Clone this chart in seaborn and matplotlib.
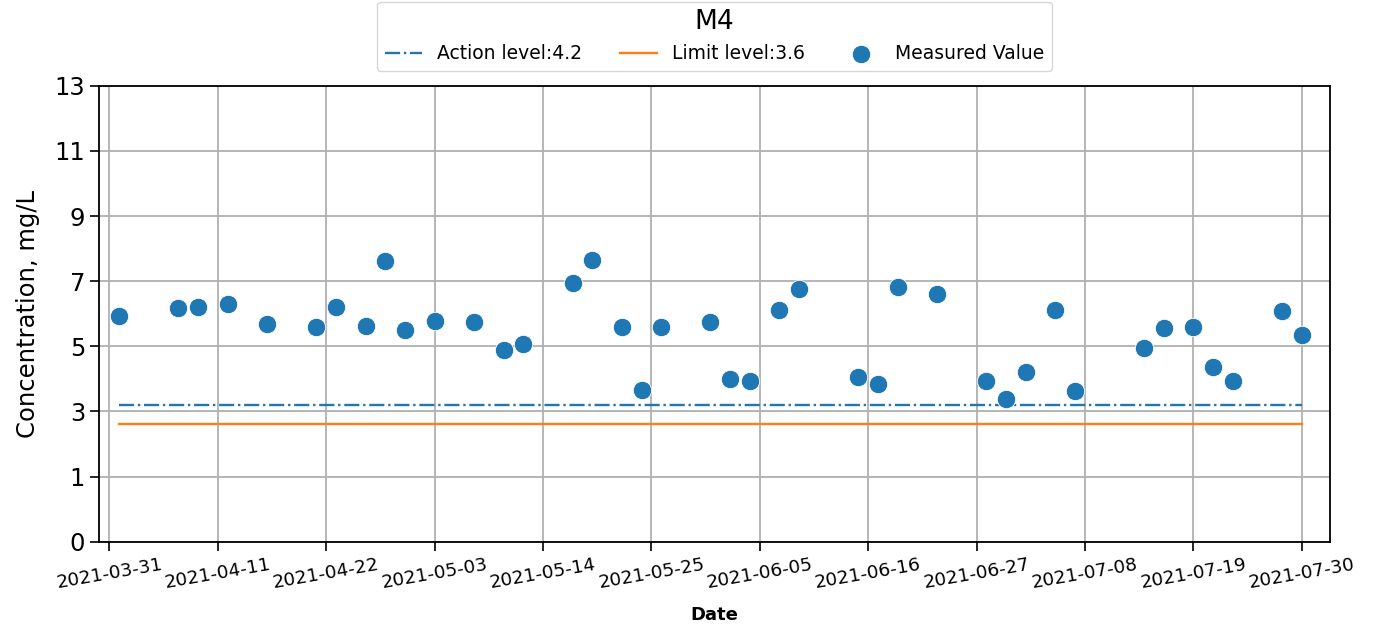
import matplotlib
matplotlib.use("Agg")
import matplotlib.pyplot as plt
import matplotlib.dates as mdates
import numpy as np
import pandas as pd
import seaborn as sns

# Measured concentrations at station M4
sample_dates = [
    "2021-04-01", "2021-04-07", "2021-04-09", "2021-04-12", "2021-04-16",
    "2021-04-21", "2021-04-23", "2021-04-26", "2021-04-28", "2021-04-30",
    "2021-05-03", "2021-05-07", "2021-05-10", "2021-05-12", "2021-05-17",
    "2021-05-19", "2021-05-22", "2021-05-24", "2021-05-26", "2021-05-31",
    "2021-06-02", "2021-06-04", "2021-06-07", "2021-06-09", "2021-06-15",
    "2021-06-17", "2021-06-19", "2021-06-23", "2021-06-28", "2021-06-30",
    "2021-07-02", "2021-07-05", "2021-07-07", "2021-07-14", "2021-07-16",
    "2021-07-19", "2021-07-21", "2021-07-23", "2021-07-28", "2021-07-30",
]
measured_values = [
    6.93, 7.19, 7.22, 7.30, 6.70, 6.59, 7.22, 6.62, 8.62, 6.50,
    6.78, 6.75, 5.89, 6.07, 7.93, 8.64, 6.59, 4.65, 6.58, 6.76,
    4.99, 4.95, 7.13, 7.76, 5.06, 4.85, 7.82, 7.62, 4.92, 4.39,
    5.21, 7.11, 4.62, 5.95, 6.57, 6.59, 5.35, 4.92, 7.08, 6.36,
]

action_level = 4.2
limit_level = 3.6
station = "M4"

ytick_positions = [0, 2, 4, 6, 8, 10, 12, 14]
ytick_labels = ["0", "1", "3", "5", "7", "9", "11", "13"]
xtick_start = "2021-03-31"
xtick_step_days = 11
xtick_count = 12

df = pd.DataFrame({"Date": pd.to_datetime(sample_dates), "Value": measured_values})
span = pd.to_datetime([sample_dates[0], sample_dates[-1]])
action_df = pd.DataFrame({"Date": span, "Level": [action_level] * 2})
limit_df = pd.DataFrame({"Date": span, "Level": [limit_level] * 2})

fig, ax = plt.subplots(figsize=(13.73, 6.29), dpi=100)
fig.subplots_adjust(left=0.0721, right=0.9686, top=0.8637, bottom=0.1387)

sns.lineplot(data=action_df, x="Date", y="Level", color="#1f77b4",
             linestyle="-.", linewidth=1.7,
             label=f"Action level:{action_level}", ax=ax)
sns.lineplot(data=limit_df, x="Date", y="Level", color="#ff7f0e",
             linestyle="-", linewidth=1.7,
             label=f"Limit level:{limit_level}", ax=ax)
sns.scatterplot(data=df, x="Date", y="Value", s=175, color="#1f77b4",
                edgecolor="white", linewidth=0.6, label="Measured Value",
                ax=ax, zorder=3)

ax.set_ylim(0, 14)
ax.set_yticks(ytick_positions)
ax.set_yticklabels(ytick_labels, fontsize=17.5)

xticks = pd.date_range(xtick_start, periods=xtick_count, freq=f"{xtick_step_days}D")
ax.set_xticks(xticks)
ax.xaxis.set_major_formatter(mdates.DateFormatter("%Y-%m-%d"))
ax.set_xlim(pd.Timestamp(xtick_start) - pd.Timedelta(days=1.05),
            pd.Timestamp(xtick_start) + pd.Timedelta(days=123.85))
plt.setp(ax.get_xticklabels(), rotation=10, fontsize=13.3)

ax.tick_params(axis="both", length=6.5, width=1.2, color="black")
for sp in ax.spines.values():
    sp.set_linewidth(1.3)
    sp.set_color("black")

ax.grid(True, color="#b0b0b0", linewidth=1.3)
ax.set_axisbelow(True)

ax.set_xlabel("Date", fontsize=13, fontweight="bold", labelpad=10)
ax.set_ylabel("Concentration, mg/L", fontsize=17.5, labelpad=10)

leg = ax.legend(title=station, ncol=3, loc="lower center",
                bbox_to_anchor=(0.5, 1.012), fontsize=13.5, title_fontsize=19,
                columnspacing=2.0, frameon=True)
leg.get_frame().set_edgecolor("#cccccc")

fig.savefig("out.png", dpi=100)
